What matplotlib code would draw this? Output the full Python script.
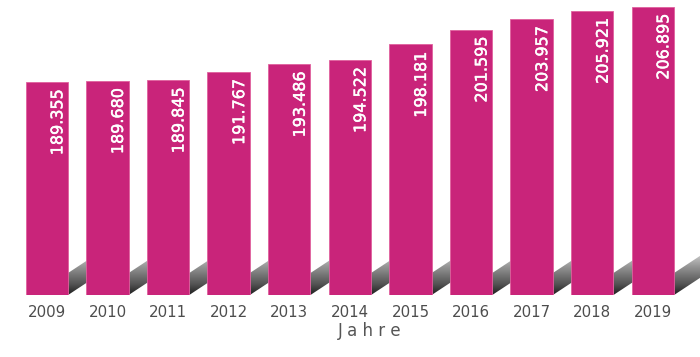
import matplotlib
matplotlib.use("Agg")
import matplotlib.pyplot as plt
import matplotlib.patheffects as pe
import numpy as np
from matplotlib.patches import Polygon

years = ['2009', '2010', '2011', '2012', '2013', '2014', '2015', '2016', '2017', '2018', '2019']
values = [189355, 189680, 189845, 191767, 193486, 194522, 198181, 201595, 203957, 205921, 206895]
value_labels = [f"{v:,}".replace(',', '.') for v in values]
xlabel = 'J a h r e'

BAR_COLOR = '#c9247a'
W, H, DPI = 700, 357, 100

fig = plt.figure(figsize=(W / DPI, H / DPI), dpi=DPI)
base_px = 295
ax = fig.add_axes([0, (H - base_px) / H, 1, base_px / H])
ymin, ymax = 140000, 208440
xmin, xmax = -0.773, 10.778
ax.set_xlim(xmin, xmax)
ax.set_ylim(ymin, ymax)

x = np.arange(len(years))
bar_w = 0.70
bars = ax.bar(x, values, width=bar_w, color=BAR_COLOR, edgecolor='#e0609e', linewidth=0.6, zorder=3)

# scale helpers (data units per pixel)
ux = (xmax - xmin) / W
uy = (ymax - ymin) / base_px

# gradient shadows behind bars
grad = np.linspace(0, 1, 256).reshape(-1, 1)
for b in bars:
    x0 = b.get_x() + b.get_width()
    y0 = ymin
    L = 45 * ux
    h = 22 * uy
    s = 0.66 * uy / ux
    pts = [(x0, y0), (x0, y0 + h), (x0 + L, y0 + h + s * L), (x0 + L, y0 + s * L)]
    poly = Polygon(pts, closed=True, facecolor='none', edgecolor='none', transform=ax.transData)
    ax.add_patch(poly)
    im = ax.imshow(grad, cmap='Greys', vmin=-0.25, vmax=1.15, origin='lower',
                   extent=[x0, x0 + L, y0 + h + s * L, y0], aspect='auto', zorder=2,
                   interpolation='bilinear')
    im.set_clip_path(poly)

ax.set_xlim(xmin, xmax)
ax.set_ylim(ymin, ymax)

for xi, v, lab in zip(x, values, value_labels):
    ax.text(xi + 11 * ux, v - 7 * uy, lab, rotation=90, ha='center', va='top',
            color='white', fontsize=11.5, fontweight='normal', zorder=4,
            path_effects=[pe.withStroke(linewidth=0.35, foreground='white')])

ax.set_xticks(x)
ax.set_xticklabels(years, fontsize=10.8, color='#4d4d4d')
ax.tick_params(axis='x', length=0, pad=7)
ax.set_yticks([])
for sp in ax.spines.values():
    sp.set_visible(False)
ax.patch.set_alpha(0)

fig.text(370 / W, 1 - 331.5 / H, xlabel, ha='center', va='center', fontsize=12, color='#555555')

fig.savefig('out.png', dpi=DPI)
